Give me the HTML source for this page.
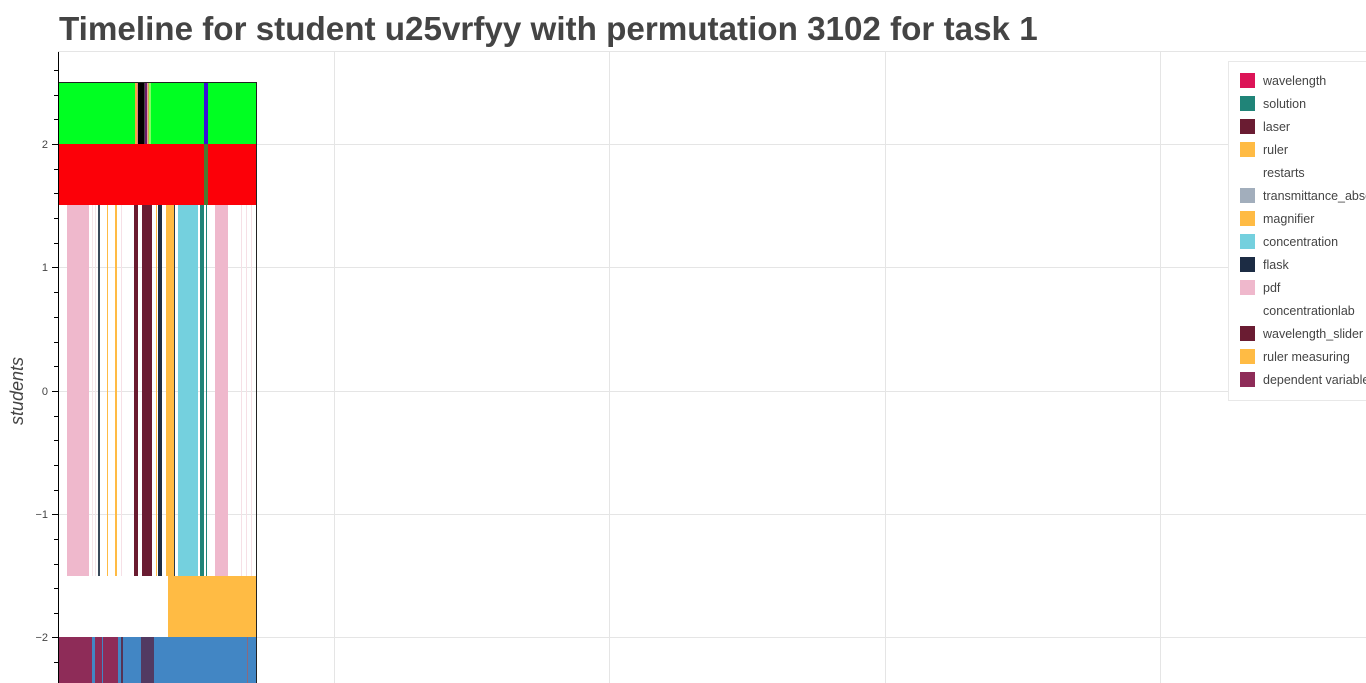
<!DOCTYPE html>
<html><head><meta charset="utf-8"><style>
html,body{margin:0;padding:0;background:#fff;width:1366px;height:683px;overflow:hidden}
svg{display:block;font-family:"Liberation Sans",Arial,sans-serif}
</style></head><body>
<svg width="1366" height="683" viewBox="0 0 1366 683" xmlns="http://www.w3.org/2000/svg">
<text x="59" y="40" font-size="33.2" font-weight="bold" fill="#444">Timeline for student u25vrfyy with permutation 3102 for task 1</text>
<rect x="58.5" y="51.5" width="1320" height="640" fill="none" stroke="#e5e5e5"/>
<g stroke="#e5e5e5" stroke-width="1">
<line x1="334.5" y1="52" x2="334.5" y2="683"/>
<line x1="609.5" y1="52" x2="609.5" y2="683"/>
<line x1="885.5" y1="52" x2="885.5" y2="683"/>
<line x1="1160.5" y1="52" x2="1160.5" y2="683"/>
<line x1="58" y1="144.5" x2="1366" y2="144.5"/>
<line x1="58" y1="267.5" x2="1366" y2="267.5"/>
<line x1="58" y1="391.5" x2="1366" y2="391.5"/>
<line x1="58" y1="514.5" x2="1366" y2="514.5"/>
<line x1="58" y1="637.5" x2="1366" y2="637.5"/>
</g>
<rect x="58" y="82" width="198" height="62" fill="#00ff22"/>
<rect x="135" y="82" width="2" height="62" fill="#f4a742"/>
<rect x="137" y="82" width="1" height="62" fill="#e08080"/>
<rect x="138" y="82" width="6" height="62" fill="#000"/>
<rect x="144" y="82" width="1" height="62" fill="#444"/>
<rect x="145" y="82" width="2" height="62" fill="#6a1a6a"/>
<rect x="147" y="82" width="1" height="62" fill="#e0a0a0"/>
<rect x="148" y="82" width="1" height="62" fill="#c8b040"/>
<rect x="149" y="82" width="2" height="62" fill="#80ff60"/>
<rect x="204" y="82" width="4" height="62" fill="#3a10d8"/>
<rect x="58" y="144" width="198" height="61" fill="#fc0008"/>
<rect x="204" y="144" width="4" height="61" fill="#4a7a30"/>
<g>
<rect x="67" y="205" width="22" height="371" fill="#efb8cc"/>
<rect x="92" y="205" width="1" height="371" fill="#f6e6ea"/>
<rect x="95" y="205" width="1" height="371" fill="#f6e6ea"/>
<rect x="98" y="205" width="2" height="371" fill="#3a4a5a"/>
<rect x="107" y="205" width="1" height="371" fill="#ffbb44"/>
<rect x="115" y="205" width="2" height="371" fill="#ffbb44"/>
<rect x="121" y="205" width="1" height="371" fill="#f6e0e6"/>
<rect x="134" y="205" width="4" height="371" fill="#6a1c30"/>
<rect x="142" y="205" width="10" height="371" fill="#6a1c32"/>
<rect x="156" y="205" width="1" height="371" fill="#ffbb44"/>
<rect x="158" y="205" width="4" height="371" fill="#1c2c44"/>
<rect x="166" y="205" width="8" height="371" fill="#ffbb44"/>
<rect x="174" y="205" width="1" height="371" fill="#2a3a4a"/>
<rect x="178" y="205" width="20" height="371" fill="#74d0de"/>
<rect x="200" y="205" width="4" height="371" fill="#208478"/>
<rect x="206" y="205" width="1" height="371" fill="#208478"/>
<rect x="215" y="205" width="13" height="371" fill="#efb8cc"/>
<rect x="241" y="205" width="1" height="371" fill="#f6e0e6"/>
<rect x="246" y="205" width="1" height="371" fill="#f6e0e6"/>
<rect x="251" y="205" width="1" height="371" fill="#f6e0e6"/>
</g>
<rect x="168" y="576" width="88" height="61" fill="#ffbb44"/>
<rect x="58" y="637" width="198" height="46" fill="#4286c4"/>
<rect x="58" y="637" width="34" height="46" fill="#8e2c58"/>
<rect x="95" y="637" width="7" height="46" fill="#8e2c58"/>
<rect x="103" y="637" width="15" height="46" fill="#8e2c58"/>
<rect x="121" y="637" width="2" height="46" fill="#553355"/>
<rect x="141" y="637" width="13" height="46" fill="#523a62"/>
<rect x="247" y="637" width="1" height="46" fill="#8a6a80"/>
<rect x="58.5" y="82.5" width="198" height="620" fill="none" stroke="#222" stroke-width="1"/>
<line x1="58.5" y1="52" x2="58.5" y2="683" stroke="#000"/>
<g stroke="#000">
<line x1="52" y1="144.5" x2="58" y2="144.5"/><line x1="52" y1="267.5" x2="58" y2="267.5"/>
<line x1="52" y1="391.5" x2="58" y2="391.5"/><line x1="52" y1="514.5" x2="58" y2="514.5"/>
<line x1="52" y1="637.5" x2="58" y2="637.5"/>
<line x1="54" y1="70.5" x2="58" y2="70.5"/><line x1="54" y1="95.5" x2="58" y2="95.5"/><line x1="54" y1="119.5" x2="58" y2="119.5"/>
<line x1="54" y1="169.5" x2="58" y2="169.5"/><line x1="54" y1="193.5" x2="58" y2="193.5"/><line x1="54" y1="218.5" x2="58" y2="218.5"/><line x1="54" y1="243.5" x2="58" y2="243.5"/>
<line x1="54" y1="292.5" x2="58" y2="292.5"/><line x1="54" y1="317.5" x2="58" y2="317.5"/><line x1="54" y1="342.5" x2="58" y2="342.5"/><line x1="54" y1="366.5" x2="58" y2="366.5"/>
<line x1="54" y1="416.5" x2="58" y2="416.5"/><line x1="54" y1="440.5" x2="58" y2="440.5"/><line x1="54" y1="465.5" x2="58" y2="465.5"/><line x1="54" y1="490.5" x2="58" y2="490.5"/>
<line x1="54" y1="539.5" x2="58" y2="539.5"/><line x1="54" y1="564.5" x2="58" y2="564.5"/><line x1="54" y1="588.5" x2="58" y2="588.5"/><line x1="54" y1="613.5" x2="58" y2="613.5"/>
<line x1="54" y1="662.5" x2="58" y2="662.5"/>
</g>
<g font-size="11" fill="#444" text-anchor="end">
<text x="48" y="148">2</text><text x="48" y="271">1</text><text x="48" y="395">0</text>
<text x="48" y="518">−1</text><text x="48" y="641">−2</text>
</g>
<text transform="translate(23,391) rotate(-90)" font-size="18" font-style="italic" fill="#444" text-anchor="middle">students</text>
<rect x="1228.5" y="61.5" width="150" height="339" fill="#fff" stroke="#e8e8e8"/>
<g font-size="12.5" fill="#444">
<rect x="1240" y="73" width="15" height="15" fill="#dc1457"/><text x="1263" y="85">wavelength</text>
<rect x="1240" y="96" width="15" height="15" fill="#208478"/><text x="1263" y="108">solution</text>
<rect x="1240" y="119" width="15" height="15" fill="#6a1c32"/><text x="1263" y="131">laser</text>
<rect x="1240" y="142" width="15" height="15" fill="#ffbb44"/><text x="1263" y="154">ruler</text>
<text x="1263" y="177">restarts</text>
<rect x="1240" y="188" width="15" height="15" fill="#a2aebc"/><text x="1263" y="200">transmittance_absorbance</text>
<rect x="1240" y="211" width="15" height="15" fill="#ffbb44"/><text x="1263" y="223">magnifier</text>
<rect x="1240" y="234" width="15" height="15" fill="#74d0de"/><text x="1263" y="246">concentration</text>
<rect x="1240" y="257" width="15" height="15" fill="#1c2c44"/><text x="1263" y="269">flask</text>
<rect x="1240" y="280" width="15" height="15" fill="#efb8cc"/><text x="1263" y="292">pdf</text>
<text x="1263" y="315">concentrationlab</text>
<rect x="1240" y="326" width="15" height="15" fill="#6a1c32"/><text x="1263" y="338">wavelength_slider</text>
<rect x="1240" y="349" width="15" height="15" fill="#ffbb44"/><text x="1263" y="361">ruler measuring</text>
<rect x="1240" y="372" width="15" height="15" fill="#8e2c58"/><text x="1263" y="384">dependent variable</text>
</g>
</svg>
</body></html>
